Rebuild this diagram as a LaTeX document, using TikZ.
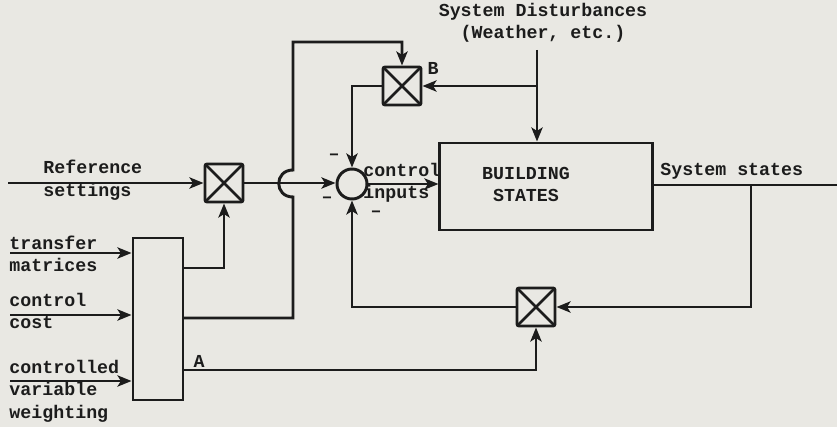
\documentclass[tikz,border=0pt]{standalone}
\usepackage{fontspec}
\newfontfamily\typefont{Liberation Mono}
\usepackage{tikz}
\usetikzlibrary{arrows.meta,positioning}
\definecolor{paper}{RGB}{233,232,227}
\definecolor{ink}{RGB}{28,28,28}

\begin{document}
\begin{tikzpicture}[x=0.025cm, y=-0.025cm, line width=2.1pt, color=ink,
  font=\typefont\bfseries\fontsize{13}{16}\selectfont,
  mult/.style={draw, rounded corners=1.5pt, minimum size=0.95cm, inner sep=0pt,
    path picture={\draw[line width=1.9pt] (path picture bounding box.north west) -- (path picture bounding box.south east)
      (path picture bounding box.north east) -- (path picture bounding box.south west);}},
  sumpt/.style={draw, circle, minimum size=0.75cm, inner sep=0pt},
  blk/.style={draw, inner sep=0pt},
  lbl/.style={inner sep=0pt, align=left, anchor=west},
  minus/.style={inner sep=0pt},
  arr/.style={-{Stealth[length=10pt, width=8pt, inset=2.5pt]}}]
\fill[paper] (0,0) rectangle (837,427);
\useasboundingbox (0,0) rectangle (837,427);
% ---- blocks
\node[blk, minimum width=1.25cm, minimum height=4.05cm] (ctrl) at (158,319) {};
\node[mult] (m1) at (224,183) {};
\node[mult] (mb) at (402,86) {};
\node[mult] (m3) at (536,307) {};
\node[sumpt] (sum) at (352,184) {};
\node[blk, minimum width=5.3cm, minimum height=2.175cm] (bldg) at (546,186.5) {};
\node[align=center, inner sep=0pt] (bldtxt) at (526,184.5) {BUILDING\\STATES};
% ---- ports and corners
\coordinate (ref) at (8,183);
\coordinate (in1) at (10,253);
\coordinate (in2) at (10,315);
\coordinate (in3) at (10,381);
\coordinate (o1) at (183,268);
\coordinate (o2) at (183,318);
\coordinate (oA) at (183,370);
\coordinate (hopbot) at (293,197);
\coordinate (hoptop) at (293,170);
\coordinate (corner) at (293,42);
\coordinate (dist) at (537,50);
\coordinate (dtap) at (537,86);
\coordinate (tap) at (751,185);
\coordinate (exit) at (837,185);
% ---- connectors
\draw[arr] (ref) -- (m1.west);
\draw[arr] (in1) -- (in1 -| ctrl.west);
\draw[arr] (in2) -- (in2 -| ctrl.west);
\draw[arr] (in3) -- (in3 -| ctrl.west);
\draw[arr] (o1) -| (m1.south);
\draw[arr] (o2) -| (hopbot) .. controls (274,197) and (274,170) .. (hoptop) -- (corner) -| (mb.north);
\draw[arr] (oA) -| (m3.south);
\draw[arr] (m1.east) -- (m1.east -| sum.west);
\draw[arr] (mb.west) -| (sum.north);
\draw[arr] (m3.west) -| (sum.south);
\draw[arr] (sum.east) -- (sum.east -| bldg.west);
\draw[arr] (dist) -- (dist |- bldg.north);
\draw[arr] (dtap) -- (mb.east);
\draw (bldg.east |- tap) -- (exit);
\draw[arr] (tap) |- (m3.east);
% ---- labels
\node[lbl] (reflbl) at (42,180) {Reference\\settings};
\node[lbl] (tmlbl) at (8,254) {transfer\\matrices};
\node[lbl] (cclbl) at (8,311) {control\\cost};
\node[lbl] (cvlbl) at (8,391) {controlled\\variable\\weighting};
\node[lbl] (cilbl) at (362,183) {control\\inputs};
\node[lbl] (sslbl) at (659,171) {System states};
\node[align=center, inner sep=0pt] (distlbl) at (543,23) {System Disturbances\\(Weather, etc.)};
\node[inner sep=0pt] (blbl) at (433,68) {B};
\node[inner sep=0pt] (albl) at (199,361) {A};
\node[minus] (mn1) at (334,157) {–};
\node[minus] (mn2) at (327,200) {–};
\node[minus] (mn3) at (376,214) {–};
\end{tikzpicture}
\end{document}
